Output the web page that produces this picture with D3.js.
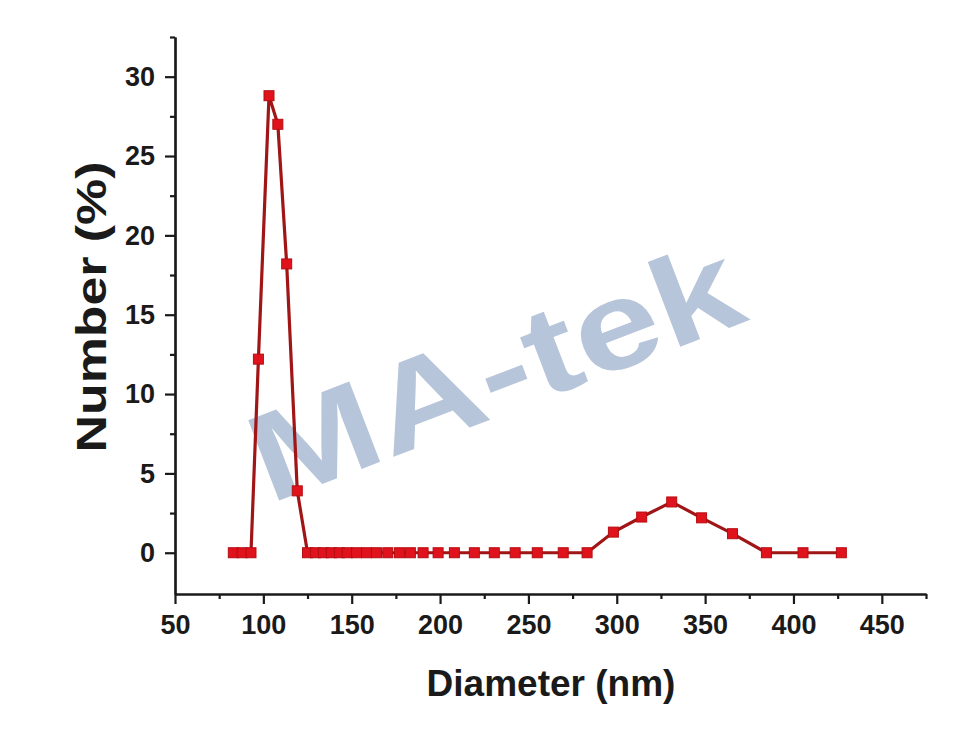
<!DOCTYPE html>
<html>
<head>
<meta charset="utf-8">
<script src="https://cdn.jsdelivr.net/npm/d3@7/dist/d3.min.js"></script>
<style>
body { margin: 0; background: #fff; }
text { font-family: "Liberation Sans", Arial, sans-serif; font-weight: bold; }
</style>
</head>
<body>
<div id="chart"></div>
<script>
// particle diameter of each size bin (nm)
var diameters = [83, 88, 93, 97.2, 103.2, 108.2, 113.2, 119.2,
    125, 129.5, 134, 138.5, 143, 147.5, 152.7, 158.4, 164, 170.4, 177, 183.2,
    190.4, 198.9, 208.1, 219.4, 230.7, 242.5, 255, 269.7, 283.2,
    298.1, 314.1, 331.1, 348, 365.5, 384.7, 405.4, 427.1];

// number distribution (%) for each bin
var numbers = [0, 0, 0, 12.2, 28.8, 27.0, 18.2, 3.9,
    0, 0, 0, 0, 0, 0, 0, 0, 0, 0, 0, 0,
    0, 0, 0, 0, 0, 0, 0, 0, 0,
    1.3, 2.25, 3.2, 2.2, 1.2, 0, 0, 0];

// tick labels
var xTicks = [50, 100, 150, 200, 250, 300, 350, 400, 450];
var xMinor = [75, 125, 175, 225, 275, 325, 375, 425, 475];
var yTicks = [0, 5, 10, 15, 20, 25, 30];
var yMinor = [2.5, 7.5, 12.5, 17.5, 22.5, 27.5, 32.5];

var width = 975, height = 738;
var plotLeft = 175, plotRight = 926, plotTop = 37, plotBottom = 594;

var svg = d3.select("#chart")
    .append("svg")
    .attr("width", width)
    .attr("height", height)
    .attr("viewBox", "0 0 " + width + " " + height)

var x = d3.scaleLinear().domain([50, 475]).range([plotLeft, plotRight]);
var y = d3.scaleLinear().domain([-2.6, 32.5]).range([plotBottom, plotTop]);

// watermark behind the data
svg.append("text")
    .attr("transform", "translate(510,412) rotate(-21)")
    .attr("text-anchor", "middle")
    .attr("font-size", 125)
    .attr("textLength", 515)
    .attr("lengthAdjust", "spacingAndGlyphs")
    .attr("fill", "#b6c5d9")
    .text("MA-tek")

var pts = diameters.map(function(d, i){ return [d, numbers[i]]; })

var line = d3.line()
    .x(function(d){ return x(d[0]); })
    .y(function(d){ return y(d[1]); })

svg.append("path")
    .datum(pts)
    .attr("d", line)
    .attr("fill", "none")
    .attr("stroke", "#a01515")
    .attr("stroke-width", 3.2)

svg.selectAll(".pt")
    .data(pts).enter().append("rect")
    .attr("class", "pt")
    .attr("x", function(d){ return x(d[0]) - 5; })
    .attr("y", function(d){ return y(d[1]) - 5; })
    .attr("width", 10)
    .attr("height", 10)
    .attr("fill", "#e0121b")
    .attr("stroke", "#b50d12")
    .attr("stroke-width", 1)

// minor ticks first, then major ticks with labels
svg.append("g")
    .attr("transform", "translate(0," + plotBottom + ")")
    .call(d3.axisBottom(x).tickValues(xMinor).tickSize(5).tickSizeOuter(0).tickFormat(""))
svg.append("g")
    .attr("transform", "translate(" + plotLeft + ",0)")
    .call(d3.axisLeft(y).tickValues(yMinor).tickSize(5).tickSizeOuter(0).tickFormat(""))

var xAxis = svg.append("g")
    .attr("transform", "translate(0," + plotBottom + ")")
    .call(d3.axisBottom(x).tickValues(xTicks).tickSize(10).tickSizeOuter(0).tickPadding(11))
var yAxis = svg.append("g")
    .attr("transform", "translate(" + plotLeft + ",0)")
    .call(d3.axisLeft(y).tickValues(yTicks).tickSize(10).tickSizeOuter(0).tickPadding(10))

svg.selectAll(".domain, .tick line")
    .attr("stroke", "#1a1a1a")
    .attr("stroke-width", 2.2)
svg.selectAll(".tick text")
    .attr("font-size", 27)
    .attr("fill", "#1a1a1a")
    .style("font-family", "'Liberation Sans', Arial, sans-serif")

// axis titles
svg.append("text")
    .attr("x", 551)
    .attr("y", 696)
    .attr("text-anchor", "middle")
    .attr("font-size", 37)
    .attr("fill", "#1a1a1a")
    .text("Diameter (nm)")

svg.append("text")
    .attr("transform", "translate(106,307) rotate(-90)")
    .attr("text-anchor", "middle")
    .attr("font-size", 42)
    .attr("textLength", 291)
    .attr("lengthAdjust", "spacingAndGlyphs")
    .attr("fill", "#1a1a1a")
    .text("Number (%)")
</script>
</body>
</html>
